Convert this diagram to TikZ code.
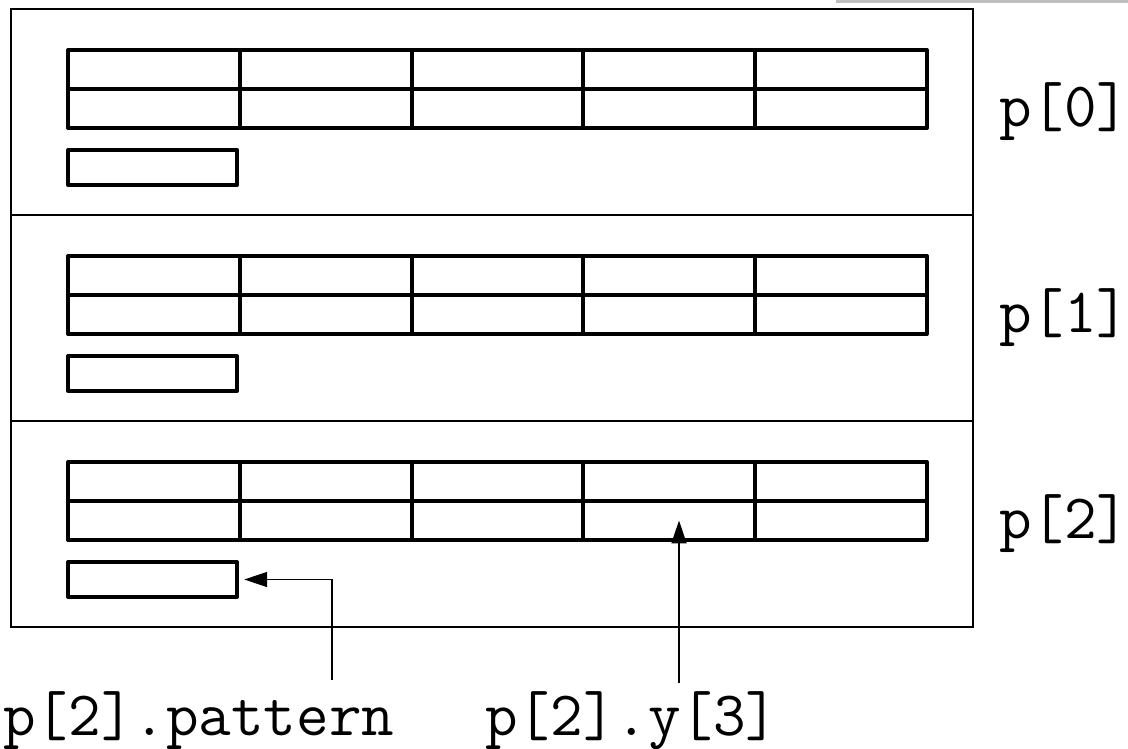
\documentclass[tikz,border=0pt]{standalone}
\usetikzlibrary{positioning,arrows.meta}

\tikzset{
  secbox/.style={draw, line width=1.1pt, minimum width=19.24cm, minimum height=4.12cm, inner sep=0pt},
  cell/.style={draw, line width=2.3pt, line join=round, minimum width=3.436cm, minimum height=0.78cm, inner sep=0pt},
  patbox/.style={draw, line width=2.3pt, line join=round, minimum width=3.38cm, minimum height=0.7cm, inner sep=0pt},
  lab/.style={font=\fontsize{36pt}{40pt}\selectfont\ttfamily, inner sep=0pt},
  ptr/.style={line width=1pt, -{Triangle[length=13pt,width=8.5pt]}}
}

\begin{document}
\begin{tikzpicture}[x=0.02cm, y=-0.02cm]
  \useasboundingbox (0,0) rectangle (1128,749);
  \fill[black!25] (836,0) rectangle (1128,3);

  \foreach \s in {0,1,2} {
    \node[secbox] (sec-\s) at (492,{112+206*\s}) {};
    \node[lab, right=0.5cm of sec-\s] (name-\s) {p[\s]};
    \foreach \c in {0,...,4} {
      \node[cell] (x-\s-\c) at ({68+171.8*(\c+0.5)},{69.5+206*\s}) {};
      \node[cell] (y-\s-\c) at ({68+171.8*(\c+0.5)},{108.5+206*\s}) {};
    }
    \node[patbox] (pat-\s) at (152.5,{167.5+206*\s}) {};
  }

  % labels below the structs
  \node[lab, anchor=base west] (patname) at (3,735) {p[2].pattern};
  \node[lab, anchor=base west] (yname) at (485,735) {p[2].y[3]};
  \coordinate (patfoot) at (332,680);
  \coordinate (yfoot) at (679,683);

  \draw[ptr, shorten >=3pt] (patfoot) |- (pat-2.east);
  \draw[ptr] (yfoot) -- (yfoot |- y-2-3.center);
\end{tikzpicture}
\end{document}
